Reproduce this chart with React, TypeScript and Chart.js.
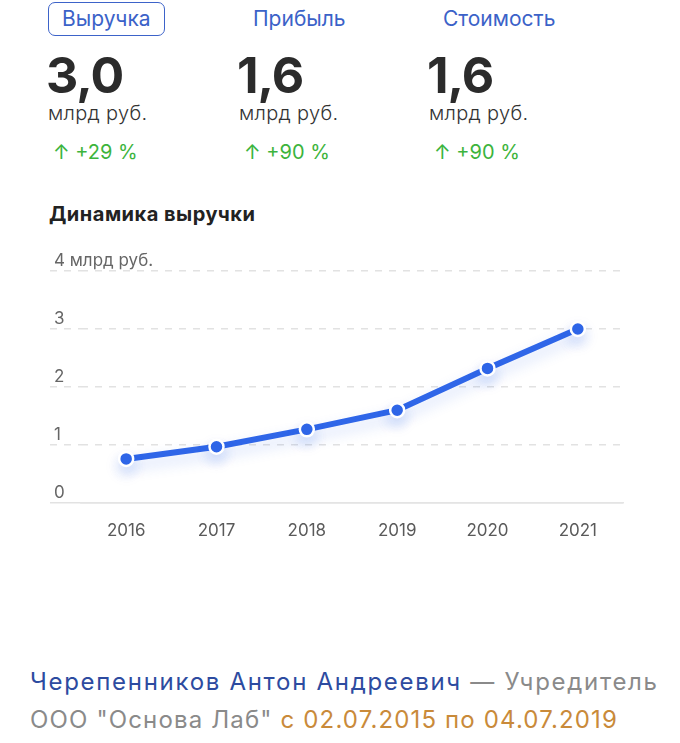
import React, { useEffect, useRef } from 'react';
import { Chart, registerables } from 'chart.js';
Chart.register(...registerables);

const years = ['2016', '2017', '2018', '2019', '2020', '2021'];
const revenue = [0.76, 0.97, 1.27, 1.6, 2.32, 3.0];
const yTickLabels = ['0', '1', '2', '3', '4 млрд руб.'];
const metricNames = ['Выручка', 'Прибыль', 'Стоимость'];
const metricValues = ['3,0', '1,6', '1,6'];
const metricUnits = ['млрд руб.', 'млрд руб.', 'млрд руб.'];
const metricChanges = ['+29 %', '+90 %', '+90 %'];
const chartTitle = 'Динамика выручки';

const FONT = 'Inter, "Noto Sans", sans-serif';
const BLUE = '#2f66e8';

const shadowPlugin = {
  id: 'lineShadow',
  beforeDatasetsDraw(chart: any) {
    const ctx = chart.ctx;
    ctx.save();
    ctx.shadowColor = 'rgba(47,102,232,0.22)';
    ctx.shadowBlur = 14;
    ctx.shadowOffsetY = 7;
  },
  afterDatasetsDraw(chart: any) {
    chart.ctx.restore();
  },
};

function RevenueChart() {
  const ref = useRef<HTMLCanvasElement | null>(null);
  useEffect(() => {
    if (!ref.current) return;
    const chart = new Chart(ref.current, {
      type: 'line',
      data: {
        labels: years,
        datasets: [
          {
            data: revenue,
            borderColor: BLUE,
            backgroundColor: BLUE,
            borderWidth: 6,
            pointRadius: 7,
            pointBackgroundColor: BLUE,
            pointBorderColor: '#ffffff',
            pointBorderWidth: 2.5,
            tension: 0,
            fill: false,
          },
        ],
      },
      options: {
        animation: false,
        responsive: false,
        events: [],
        layout: { padding: { left: 50, right: 57, top: 31, bottom: 7 } },
        plugins: { legend: { display: false }, tooltip: { enabled: false } },
        scales: {
          x: {
            type: 'category',
            offset: true,
            grid: { display: false, drawTicks: false },
            border: { display: true, color: '#e4e4e4', width: 1.5 },
            ticks: {
              padding: 18,
              color: '#5a5a5a',
              font: { family: FONT, size: 17 },
              maxRotation: 0,
            },
            afterFit: (s: any) => {
              s.height = 40;
            },
          },
          y: {
            min: 0,
            max: 4,
            grid: {
              color: '#e2e2e2',
              lineWidth: 1.5,
              drawTicks: true,
              tickLength: 31,
              tickColor: '#e2e2e2',
              tickWidth: 1.5,
              tickBorderDash: (c: any) => (c.tick && c.tick.value === 0 ? [] : [7, 7]),
            },
            border: {
              display: false,
              dash: (c: any) => (c.tick && c.tick.value === 0 ? [] : [7, 7]),
            },
            ticks: {
              stepSize: 1,
              mirror: true,
              padding: -27,
              crossAlign: 'near',
              labelOffset: -10,
              color: '#666666',
              font: { family: FONT, size: 17 },
              callback: (v: any) => yTickLabels[Number(v)] ?? '',
            },
            afterFit: (s: any) => {
              s.width = 31;
            },
          },
        },
      },
      plugins: [shadowPlugin],
    } as any);
    return () => chart.destroy();
  }, []);
  return (
    <canvas
      ref={ref}
      width={680}
      height={310}
      style={{ position: 'absolute', left: 0, top: 240, width: 680, height: 310 }}
    />
  );
}

export default function App() {
  const cols = [48, 239, 429];
  return (
    <div
      style={{
        position: 'absolute',
        left: 0,
        top: 0,
        width: 680,
        height: 743,
        background: '#ffffff',
        fontFamily: FONT,
        overflow: 'hidden',
      }}
    >
      {metricNames.map((n, i) => (
        <div
          key={'n' + i}
          style={{
            position: 'absolute',
            left: cols[i],
            top: 2,
            height: 34,
            boxSizing: 'border-box',
            padding: '0 13px',
            border: i === 0 ? '1.5px solid #3d63c9' : '1.5px solid transparent',
            borderRadius: 7,
            color: '#3b62c8',
            fontSize: 21,
            lineHeight: '31px',
            whiteSpace: 'nowrap',
          }}
        >
          {n}
        </div>
      ))}
      {metricValues.map((v, i) => (
        <div
          key={'v' + i}
          style={{
            position: 'absolute',
            left: cols[i] - 2,
            top: 49,
            fontSize: 50,
            fontWeight: 700,
            lineHeight: '52px',
            color: '#2b2b2b',
            letterSpacing: -1,
          }}
        >
          {v}
        </div>
      ))}
      {metricUnits.map((u, i) => (
        <div
          key={'u' + i}
          style={{
            position: 'absolute',
            left: cols[i],
            top: 101,
            fontSize: 20,
            lineHeight: '24px',
            color: '#333333',
            fontWeight: 300,
            letterSpacing: 0.3,
          }}
        >
          {u}
        </div>
      ))}
      {metricChanges.map((c, i) => (
        <div
          key={'c' + i}
          style={{
            position: 'absolute',
            left: cols[i] + 5,
            top: 140,
            fontSize: 20,
            lineHeight: '24px',
            color: '#3cb43c',
            whiteSpace: 'nowrap',
          }}
        >
          {'↑ ' + c}
        </div>
      ))}
      <div
        style={{
          position: 'absolute',
          left: 49,
          top: 202,
          fontSize: 20,
          fontWeight: 700,
          lineHeight: '24px',
          color: '#222222',
          letterSpacing: 0.5,
        }}
      >
        {chartTitle}
      </div>
      <RevenueChart />
      <div
        style={{
          position: 'absolute',
          left: 30,
          top: 668,
          fontSize: 24,
          lineHeight: '28px',
          letterSpacing: 1.7,
          whiteSpace: 'nowrap',
        }}
      >
        <span style={{ color: '#2d4ba0' }}>Черепенников Антон Андреевич</span>
        <span style={{ color: '#8a8a8a' }}> — Учредитель</span>
      </div>
      <div
        style={{
          position: 'absolute',
          left: 30,
          top: 706,
          fontSize: 24,
          lineHeight: '28px',
          letterSpacing: 1.15,
          whiteSpace: 'nowrap',
        }}
      >
        <span style={{ color: '#8a8a8a' }}>ООО "Основа Лаб"</span>
        <span style={{ color: '#c98a3a' }}> с 02.07.2015 по 04.07.2019</span>
      </div>
    </div>
  );
}
